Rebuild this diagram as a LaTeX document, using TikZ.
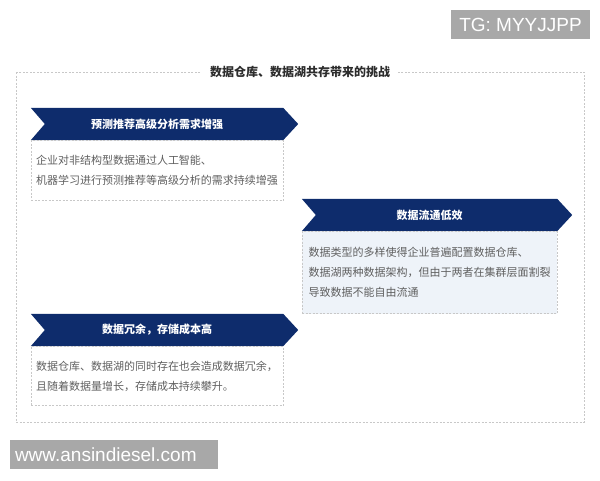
\documentclass[tikz,border=0pt]{standalone}
\usepackage{fontspec}
\setmainfont{Liberation Sans}
\newfontfamily\cjk{Noto Sans CJK SC}
\usepackage{tikz}
\usetikzlibrary{positioning, calc, backgrounds}

\definecolor{navy}{RGB}{14,44,108}
\definecolor{paleblue}{RGB}{238,243,249}
\definecolor{dashgray}{RGB}{200,200,200}
\definecolor{textgray}{RGB}{95,95,95}
\definecolor{titlegray}{RGB}{45,45,45}
\definecolor{wmgray}{RGB}{168,168,168}

\tikzset{
  banner/.style={minimum width=252pt, minimum height=32pt, inner sep=0pt,
    text=white, font=\cjk\bfseries\fontsize{11}{13}\selectfont},
  txtbox/.style={draw=dashgray, dash pattern=on 2pt off 1.5pt, line width=0.6pt,
    minimum width=252pt, inner xsep=5pt, inner ysep=0pt, align=left,
    text=textgray, font=\cjk\fontsize{11}{20}\selectfont},
  watermark/.style={fill=wmgray, text=white, inner sep=0pt,
    font=\fontsize{19}{22}\selectfont}
}

\begin{document}
\begin{tikzpicture}[x=1pt, y=-1pt]
\useasboundingbox (0,0) rectangle (600,480);

% outer frame and heading
\draw[dashgray, dash pattern=on 2pt off 1.5pt, line width=0.6pt] (16,72) rectangle (584,422);
\node[fill=white, inner xsep=8pt, text=titlegray, font=\cjk\bfseries\fontsize{12}{14}\selectfont]
  (title) at (300,72) {数据仓库、数据湖共存带来的挑战};

% banners
\node[banner] (b1) at (157,124) {预测推荐高级分析需求增强};
\node[banner, minimum width=255pt] (b2) at (429.5,215) {数据流通低效};
\node[banner] (b3) at (157,330) {数据冗余，存储成本高};

\begin{scope}[on background layer]
\foreach \b in {b1,b2,b3}
  \fill[navy] (\b.north west) -- (\b.north east) -- ($(\b.east)+(15,0)$)
    -- (\b.south east) -- (\b.south west) -- ($(\b.west)+(14,0)$) -- cycle;
\end{scope}

% text boxes
\node[txtbox, minimum height=60pt, below=0pt of b1] (t1)
  {企业对非结构型数据通过人工智能、\\机器学习进行预测推荐等高级分析的需求持续增强};
\node[txtbox, fill=paleblue, minimum width=255pt, minimum height=82pt, below=0pt of b2] (t2)
  {数据类型的多样使得企业普遍配置数据仓库、\\数据湖两种数据架构，但由于两者在集群层面割裂\\导致数据不能自由流通};
\node[txtbox, minimum height=59pt, below=0pt of b3] (t3)
  {数据仓库、数据湖的同时存在也会造成数据冗余，\\且随着数据量增长，存储成本持续攀升。};

% watermarks
\node[watermark, minimum width=139pt, minimum height=29pt] (tg) at (520.5,24.5) {TG: MYYJJPP};
\node[watermark, minimum width=208pt, minimum height=29pt, text width=198pt, align=left]
  (site) at (114,454.5) {www.ansindiesel.com};
\end{tikzpicture}
\end{document}
